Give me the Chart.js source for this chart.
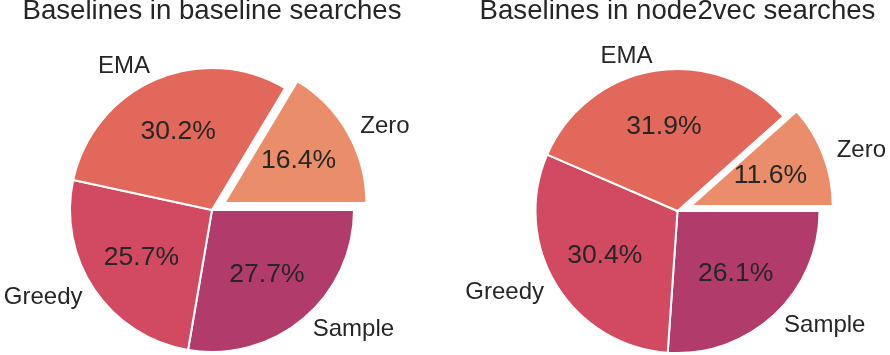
<!DOCTYPE html>
<html>
<head>
<meta charset="utf-8">
<script src="https://cdn.jsdelivr.net/npm/chart.js@4/dist/chart.umd.min.js"></script>
<style>
  html, body { margin: 0; padding: 0; background: #ffffff; overflow: hidden; }
  body { width: 890px; height: 355px; position: relative; }
  .box { position: absolute; width: 445px; height: 420px; top: -5px; }
  #b1 { left: 0px; }
  #b2 { left: 445px; }
</style>
</head>
<body>
<div class="box" id="b1"><canvas id="c1" width="445" height="420"></canvas></div>
<div class="box" id="b2"><canvas id="c2" width="445" height="420"></canvas></div>
<script>
// ---- data ----
const categories = ['Zero', 'EMA', 'Greedy', 'Sample'];
const baselineShares = [16.4, 30.2, 25.7, 27.7];
const node2vecShares = [11.6, 31.9, 30.4, 26.1];
const explodeFractions = [0.1, 0, 0, 0];
const chartTitles = ['Baselines in baseline searches', 'Baselines in node2vec searches'];
const sliceColors = ['#e98d6b', '#e3685c', '#d14a61', '#b13c6c'];

const FONT = '"Liberation Sans", Arial, Helvetica, sans-serif';
const TEXT_COLOR = '#262626';
const RADIUS = 142;

// matplotlib draws counter-clockwise from 3 o'clock; Chart.js draws clockwise,
// so feed the slices in reverse order starting at 3 o'clock.
function rev(a) { return a.slice().reverse(); }

const explodePlugin = {
  id: 'explodeSlices',
  afterDatasetsUpdate(chart) {
    const meta = chart.getDatasetMeta(0);
    const ex = chart.options.plugins.explodeSlices.fractions;
    meta.data.forEach((el, i) => {
      const f = ex[i] || 0;
      if (!f) return;
      const h = (el.startAngle + el.endAngle) / 2;
      const d = f * el.outerRadius;
      el.x += Math.cos(h) * d;
      el.y += Math.sin(h) * d;
    });
  }
};

const labelPlugin = {
  id: 'pieLabels',
  afterDatasetsDraw(chart) {
    const ctx = chart.ctx;
    const meta = chart.getDatasetMeta(0);
    const data = chart.data.datasets[0].data;
    const labels = chart.data.labels;
    ctx.save();
    ctx.fillStyle = TEXT_COLOR;
    ctx.textBaseline = 'middle';
    meta.data.forEach((el, i) => {
      const h = (el.startAngle + el.endAngle) / 2;
      const r = el.outerRadius;
      const c = Math.cos(h), s = Math.sin(h);
      // percentage
      ctx.font = '26.5px ' + FONT;
      ctx.textAlign = 'center';
      ctx.fillText(data[i].toFixed(1) + '%', el.x + c * 0.6 * r, el.y + s * 0.6 * r);
      // category label
      ctx.font = '24px ' + FONT;
      const lx = el.x + c * 1.1 * r;
      ctx.textAlign = lx > el.x ? 'left' : 'right';
      ctx.fillText(labels[i], lx, el.y + s * 1.1 * r);
    });
    ctx.restore();
  }
};

function makePie(canvasId, values, title, padding) {
  return new Chart(document.getElementById(canvasId), {
    type: 'pie',
    data: {
      labels: rev(categories),
      datasets: [{
        data: rev(values),
        backgroundColor: rev(sliceColors),
        borderColor: '#ffffff',
        borderWidth: 2,
        hoverOffset: 0
      }]
    },
    options: {
      responsive: false,
      animation: false,
      events: [],
      rotation: 90,
      radius: RADIUS,
      layout: { padding: padding },
      plugins: {
        legend: { display: false },
        tooltip: { enabled: false },
        title: {
          display: true,
          text: title,
          color: TEXT_COLOR,
          font: { family: FONT, size: 27.6, weight: 'normal', lineHeight: 1.2 },
          padding: { top: 0, bottom: 0 }
        },
        explodeSlices: { fractions: rev(explodeFractions) }
      }
    },
    plugins: [explodePlugin, labelPlugin]
  });
}

makePie('c1', baselineShares, chartTitles[0], { left: 0, right: 21, top: 0, bottom: 23.1 });
makePie('c2', node2vecShares, chartTitles[1], { left: 20, right: 0, top: 0, bottom: 21.1 });
</script>
</body>
</html>
